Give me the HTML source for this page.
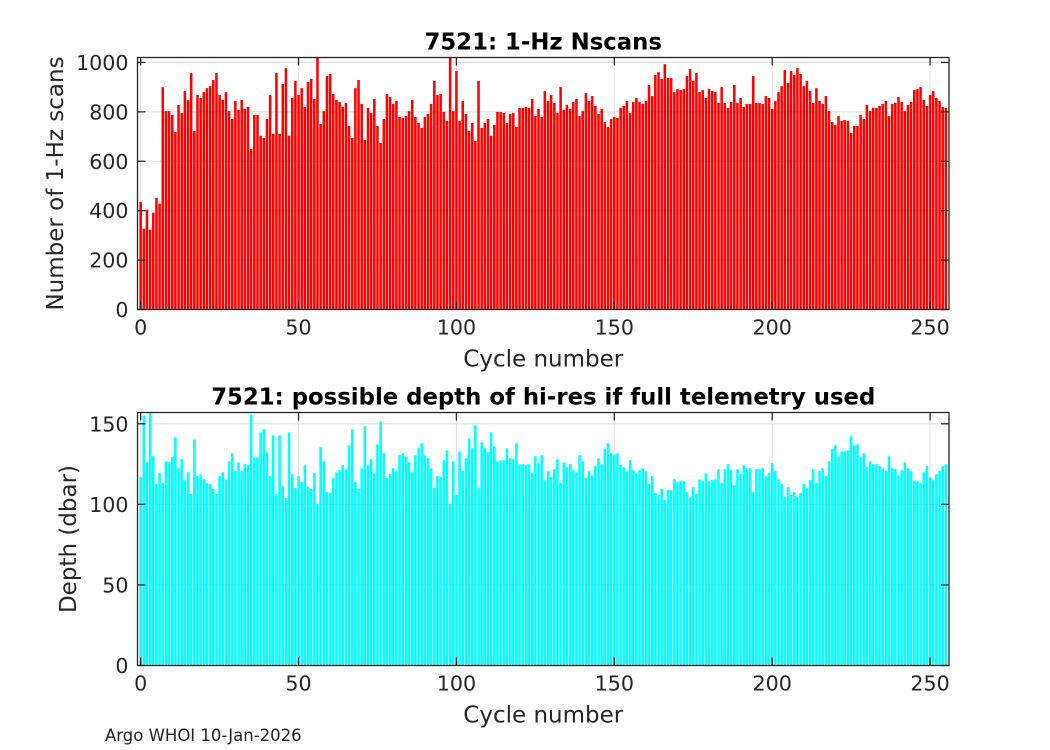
<!DOCTYPE html>
<html><head><meta charset="utf-8"><style>
body{margin:0;background:#fff;}
svg{display:block;font-family:"DejaVu Sans","Liberation Sans",sans-serif;}
</style></head><body>
<svg id="fig" width="1050" height="750" viewBox="0 0 1050 750">
<rect x="0" y="0" width="1050" height="750" fill="#fff"/>
<g id="top"></g>
<g id="bot"></g>
<text x="105" y="741" font-size="16.5" fill="#222">Argo WHOI 10-Jan-2026</text>
</svg>
<script>
const cycles1 = Array.from({length:256},(_,i)=>i);
const nscans = [436,327,404,323,392,452,428,900,803,803,787,719,828,795,884,848,957,723,868,856,880,896,904,929,957,868,848,880,803,771,844,808,848,812,820,650,787,787,703,694,771,868,711,957,711,913,977,703,856,925,868,896,820,921,933,852,1020,751,803,945,953,872,848,840,820,
836,743,694,896,929,832,686,816,795,852,743,674,771,872,860,832,844,779,775,783,803,848,779,755,735,779,791,832,925,868,872,800,763,1020,803,965,763,844,791,723,755,682,925,735,755,771,703,747,800,800,795,755,791,795,739,816,816,820,816,852,783,812,779,884,
844,868,836,795,900,808,828,812,840,852,783,803,876,844,864,824,791,812,759,739,771,779,775,816,824,844,795,840,856,840,832,844,909,864,949,961,933,993,937,937,880,892,888,892,945,973,925,957,880,888,856,892,884,880,836,900,836,816,840,909,836,856,820,
832,832,945,836,836,832,864,856,812,844,880,904,969,917,965,949,977,953,904,925,884,836,896,844,832,864,803,759,747,783,763,767,763,715,743,743,787,771,828,803,816,816,824,832,844,783,832,836,860,840,803,828,840,888,892,900,848,824,868,884,856,844,820,816];
const depth = [116.9,155.1,126.1,160,129.8,112.6,119.3,113.2,126.7,126.1,129.2,141.6,122.4,128.0,115.0,119.9,106.4,140.3,117.5,118.7,115.6,113.2,112.6,109.5,106.4,117.5,119.9,115.6,126.7,131.7,120.6,126.1,120.6,124.9,124.3,155.8,129.2,129.2,144.7,146.5,132.3,117.5,142.8,106.4,142.8,111.3,103.9,144.7,118.7,110.1,117.5,113.8,124.3,110.7,109.5,119.3,100.2,135.4,126.7,107.6,107.0,116.3,119.9,121.2,124.3,
121.8,136.6,146.5,113.8,109.5,122.4,148.4,124.3,128.0,119.3,137.2,151.4,131.7,116.3,118.7,122.4,120.6,130.5,131.7,129.8,126.1,119.9,130.5,134.8,137.9,130.5,128.6,122.4,110.1,117.5,116.9,127.4,133.5,100.2,126.7,105.8,132.9,120.6,128.6,140.9,134.8,149.0,110.1,138.5,134.8,132.3,144.7,136.0,126.7,127.4,127.4,134.8,128.6,128.0,137.9,124.9,124.9,124.3,124.9,119.3,129.8,125.5,130.5,115.0,
120.6,116.9,121.8,128.0,113.2,126.1,123.0,124.9,121.2,119.9,130.5,126.7,116.3,120.6,118.1,123.7,128.6,124.9,134.2,137.9,131.7,130.5,131.7,124.3,123.0,120.6,127.4,121.2,119.3,121.2,122.4,120.6,112.6,117.5,107.0,105.8,109.5,102.7,108.8,108.8,115.6,113.8,114.4,114.4,107.6,104.5,110.7,106.4,115.6,114.4,119.3,114.4,115.0,115.6,121.8,113.2,121.8,124.9,121.2,111.9,121.8,118.7,124.3,
122.4,122.4,107.6,121.8,121.8,122.4,117.5,119.3,125.5,120.6,115.6,112.6,104.5,110.7,105.8,107.6,104.5,107.0,112.6,110.1,115.0,121.8,113.2,120.6,122.4,117.5,126.7,134.2,136.6,129.8,132.9,132.9,133.5,142.2,136.6,137.2,129.2,131.7,123.0,126.7,124.9,124.9,123.7,122.4,120.6,129.8,122.4,121.8,118.1,121.2,126.1,122.4,120.6,114.4,114.4,113.2,119.9,123.7,116.9,115.0,118.7,120.6,123.7,124.9];
const xTicks = [0,50,100,150,200,250];
const yTicksTop = [0,200,400,600,800,1000];
const yTicksBot = [0,50,100,150];

const NS='http://www.w3.org/2000/svg';
function mk(p,tag,attrs){const e=document.createElementNS(NS,tag);for(const k in attrs)e.setAttribute(k,attrs[k]);p.appendChild(e);return e;}

function chart(g,cfg){
  const L=137.5,R=949,T=cfg.top,B=cfg.bottom;
  const xs=c=>L+(c-cfg.xmin)/(cfg.xmax-cfg.xmin)*(R-L);
  const ys=v=>B-Math.min(v,cfg.ymax)/cfg.ymax*(B-T);
  cfg.xt.forEach(t=>{const l=mk(g,'line',{x1:xs(t),x2:xs(t),y1:T,y2:B,stroke:'#dedede','stroke-width':1});
    
    });
  cfg.yt.forEach(t=>{const l=mk(g,'line',{x1:L,x2:R,y1:ys(t),y2:ys(t),stroke:'#dedede','stroke-width':1});
    
    });
  const bw=0.8*(R-L)/(cfg.xmax-cfg.xmin);
  cfg.vals.forEach((v,i)=>{const c=cfg.cats[i];const y=ys(v);
    const r=mk(g,'rect',{x:xs(c)-bw/2,y:y,width:bw,height:B-y,fill:cfg.color});
    
    });
  const bx=mk(g,'rect',{x:L,y:T,width:R-L,height:B-T,fill:'none',stroke:'#262626','stroke-width':1.3});
  
  
  cfg.xt.forEach(t=>{const x=xs(t);
    mk(g,'line',{x1:x,x2:x,y1:B,y2:B-8,stroke:'#262626','stroke-width':1.3});
    mk(g,'line',{x1:x,x2:x,y1:T,y2:T+8,stroke:'#262626','stroke-width':1.3});
    const tx=mk(g,'text',{x:x,y:B+25,'font-size':20.6,'text-anchor':'middle',fill:'#262626'});tx.textContent=t;
    
    });
  cfg.yt.forEach(t=>{const y=ys(t);
    mk(g,'line',{x1:L,x2:L+8,y1:y,y2:y,stroke:'#262626','stroke-width':1.3});
    mk(g,'line',{x1:R,x2:R-8,y1:y,y2:y,stroke:'#262626','stroke-width':1.3});
    const tx=mk(g,'text',{x:L-9,y:y+7.5,'font-size':20.6,'text-anchor':'end',fill:'#262626'});tx.textContent=t;
    
    });
  const xl=mk(g,'text',{x:(L+R)/2,y:B+57,'font-size':23,'text-anchor':'middle',fill:'#262626'});xl.textContent='Cycle number';
  
  
  const yl=mk(g,'text',{x:0,y:0,'font-size':23,'text-anchor':'middle',fill:'#262626',transform:`translate(${cfg.ylx},${(T+B)/2}) rotate(-90)`});yl.textContent=cfg.ylabel;
  
  
  const ti=mk(g,'text',{x:(L+R)/2,y:T-8,'font-size':22.8,'font-weight':'bold','text-anchor':'middle',fill:'#000'});ti.textContent=cfg.title;
  
  
}
chart(document.getElementById('top'),{top:57.5,bottom:309.5,xmin:-1,xmax:256,ymax:1020,cats:cycles1,vals:nscans,color:'#ff0000',xt:xTicks,yt:yTicksTop,ylabel:'Number of 1-Hz scans',ylx:63,title:'7521: 1-Hz Nscans'});
chart(document.getElementById('bot'),{top:412.5,bottom:665.5,xmin:-1,xmax:256,ymax:157,cats:cycles1,vals:depth,color:'#00ffff',xt:xTicks,yt:yTicksBot,ylabel:'Depth (dbar)',ylx:76,title:'7521: possible depth of hi-res if full telemetry used'});
</script>
</body></html>
